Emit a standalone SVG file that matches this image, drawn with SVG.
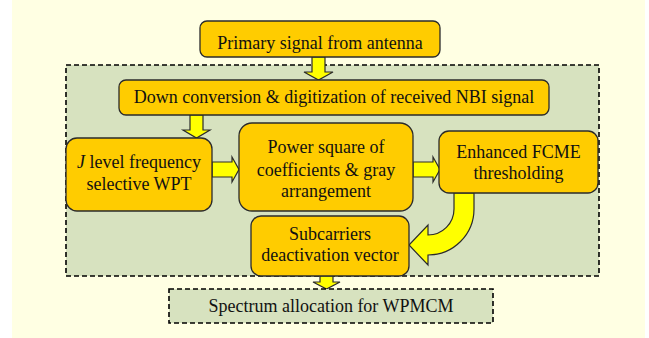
<svg xmlns="http://www.w3.org/2000/svg" width="649" height="338" viewBox="0 0 649 338">
  <style>
    .bg { fill: #FFFFE3; }
    .region { fill: #D7E2BF; stroke: #000; stroke-width: 1.6; stroke-dasharray: 5 3; }
    .box { fill: #FFCC00; stroke: #2B2B2B; stroke-width: 1.3; }
    .out { fill: #D7E2BF; stroke: #000; stroke-width: 1.6; stroke-dasharray: 5 3; }
    .arrow { fill: #FFFF00; stroke: #2B2B2B; stroke-width: 1.2; stroke-linejoin: miter; }
    .lbl { font-size: 18px; fill: #111; text-anchor: middle; }
  </style>

  <!-- page background -->
  <rect class="bg" x="12" y="0" width="633" height="338"/>

  <!-- processing region -->
  <rect class="region" x="66" y="65" width="533" height="211"/>

  <!-- connectors -->
  <g id="connectors">
    <path class="arrow" d="M312,57 H325 V72 H333 L318.5,80 L304,72 H312 Z"/>
    <path class="arrow" d="M190,115 H203 V130 H210 L196.5,138 L183,130 H190 Z"/>
    <path class="arrow" d="M212,162 H232 V157 L239,169.5 L232,182 V177 H212 Z"/>
    <path class="arrow" d="M413,162 H433 V157 L440,169.5 L433,182 V177 H413 Z"/>
    <path class="arrow" d="M454,193 H474 V209 A46,46 0 0 1 428,255 V265 L409,245 L428,225 V235 A26,26 0 0 0 454,209 Z"/>
    <path class="arrow" d="M320,276 H333 V282 H340 L326.5,289 L313,282 H320 Z"/>
  </g>

  <g font-family="Liberation Serif, DejaVu Serif, serif">
    <g id="primary">
      <rect class="box" x="200" y="21" width="240" height="36" rx="7"/>
      <text class="lbl" x="320" y="49">Primary signal from antenna</text>
    </g>

    <g id="downconversion">
      <rect class="box" x="119" y="80" width="430" height="35" rx="7"/>
      <text class="lbl" x="334" y="103">Down conversion &amp; digitization of received NBI signal</text>
    </g>

    <g id="wpt">
      <rect class="box" x="66" y="138" width="146" height="73" rx="11"/>
      <text class="lbl" x="139" y="168"><tspan font-style="italic">J</tspan> level frequency</text>
      <text class="lbl" x="139" y="190">selective WPT</text>
    </g>

    <g id="powersquare">
      <rect class="box" x="239" y="123" width="174" height="88" rx="13"/>
      <text class="lbl" x="326" y="153">Power square of</text>
      <text class="lbl" x="326" y="176">coefficients &amp; gray</text>
      <text class="lbl" x="326" y="197">arrangement</text>
    </g>

    <g id="fcme">
      <rect class="box" x="439" y="131" width="159" height="62" rx="10"/>
      <text class="lbl" x="518.5" y="158">Enhanced FCME</text>
      <text class="lbl" x="518.5" y="179">thresholding</text>
    </g>

    <g id="subcarriers">
      <rect class="box" x="251" y="216" width="158" height="60" rx="10"/>
      <text class="lbl" x="330" y="240">Subcarriers</text>
      <text class="lbl" x="330" y="261">deactivation vector</text>
    </g>

    <g id="spectrum">
      <rect class="out" x="169" y="289" width="324" height="34"/>
      <text class="lbl" x="331" y="312">Spectrum allocation for WPMCM</text>
    </g>
  </g>
</svg>
